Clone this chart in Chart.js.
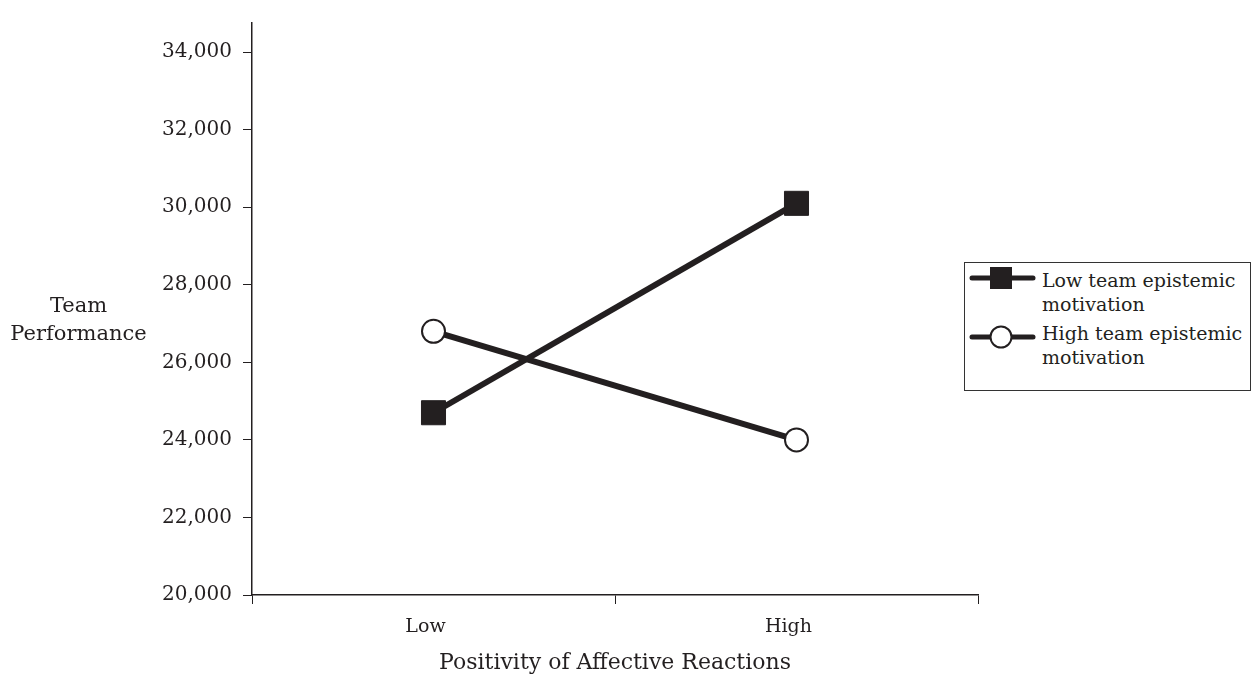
<!DOCTYPE html>
<html>
<head>
<meta charset="utf-8">
<script src="https://cdn.jsdelivr.net/npm/chart.js@4"></script>
<style>
  body { margin: 0; background: #fff; font-family: "DejaVu Serif", serif; color: #231f20; }
  #wrap { position: relative; width: 1253px; height: 676px; }
  #ytitle { position: absolute; left: 0; top: 291px; width: 157px; text-align: center;
            font-size: 21px; line-height: 28px; }
  #legend { position: absolute; left: 964px; top: 262px; width: 285px; height: 127px;
            border: 1px solid #333; background: #fff; }
  .entry svg { position: absolute; left: 2px; }
  .entry div { position: absolute; left: 77px; font-size: 19px; line-height: 24px; white-space: nowrap; }
</style>
</head>
<body>
<div id="wrap">
  <canvas id="chart" width="1253" height="676"></canvas>
  <div id="ytitle">Team<br>Performance</div>
  <div id="legend"></div>
</div>
<script>
// categories and values
const categories = ['Low', 'High'];
const lowEpistemic = [24700, 30100];
const highEpistemic = [26800, 24000];
const yTicks = [20000, 22000, 24000, 26000, 28000, 30000, 32000, 34000];
const seriesNames = ['Low team epistemic motivation', 'High team epistemic motivation'];

const ink = '#231f20';

// legend built by hand so the labels can wrap like the original
const legend = document.getElementById('legend');
const legendRows = [
  { svgTop: 0, textTop: 5, marker: '<rect x="23" y="4" width="22" height="22" fill="' + ink + '"/>' },
  { svgTop: 59, textTop: 58, marker: '<circle cx="34" cy="15" r="10.5" fill="#fff" stroke="' + ink + '" stroke-width="2"/>' }
];
legendRows.forEach((row, i) => {
  const words = seriesNames[i].split(' ');
  const el = document.createElement('div');
  el.className = 'entry';
  el.innerHTML =
    '<svg width="72" height="30" style="top:' + row.svgTop + 'px">' +
    '<line x1="5" y1="15" x2="66" y2="15" stroke="' + ink + '" stroke-width="5" stroke-linecap="round"/>' +
    row.marker + '</svg>' +
    '<div style="top:' + row.textTop + 'px">' + words.slice(0, 3).join(' ') + '<br>' + words.slice(3).join(' ') + '</div>';
  legend.appendChild(el);
});

new Chart(document.getElementById('chart').getContext('2d'), {
  type: 'line',
  data: {
    labels: categories,
    datasets: [{
      label: seriesNames[0],
      data: lowEpistemic,
      borderColor: ink,
      backgroundColor: ink,
      borderWidth: 6,
      pointStyle: 'rect',
      pointRadius: 17,
      pointBorderWidth: 1,
      pointBackgroundColor: ink,
      pointBorderColor: ink
    }, {
      label: seriesNames[1],
      data: highEpistemic,
      borderColor: ink,
      backgroundColor: '#fff',
      borderWidth: 6,
      pointStyle: 'circle',
      pointRadius: 11.5,
      pointBorderWidth: 2,
      pointBackgroundColor: '#fff',
      pointBorderColor: ink
    }]
  },
  options: {
    responsive: false,
    animation: false,
    devicePixelRatio: 1,
    layout: { padding: { top: 20, right: 275, left: 0, bottom: 0 } },
    plugins: {
      legend: { display: false },
      tooltip: { enabled: false }
    },
    scales: {
      x: {
        type: 'category',
        offset: true,
        afterFit: s => { s.height = 81; },
        grid: { offset: true, drawOnChartArea: false, drawTicks: true, tickLength: 9, color: ink },
        border: { color: ink, width: 1.5 },
        ticks: { color: ink, padding: 12, labelOffset: -8, font: { family: 'DejaVu Serif', size: 19 } },
        title: {
          display: true,
          text: 'Positivity of Affective Reactions',
          color: ink,
          font: { family: 'DejaVu Serif', size: 22 },
          padding: { top: 4, bottom: 0 }
        }
      },
      y: {
        min: 20000,
        max: 34750,
        afterFit: s => { s.width = 252; },
        afterBuildTicks: s => { s.ticks = yTicks.map(v => ({ value: v })); },
        grid: { drawOnChartArea: false, drawTicks: true, tickLength: 9, color: ink },
        border: { color: ink, width: 1.5 },
        ticks: {
          color: ink,
          padding: 11,
          font: { family: 'DejaVu Serif', size: 20 },
          callback: v => v.toLocaleString('en-US')
        }
      }
    }
  }
});
</script>
</body>
</html>
